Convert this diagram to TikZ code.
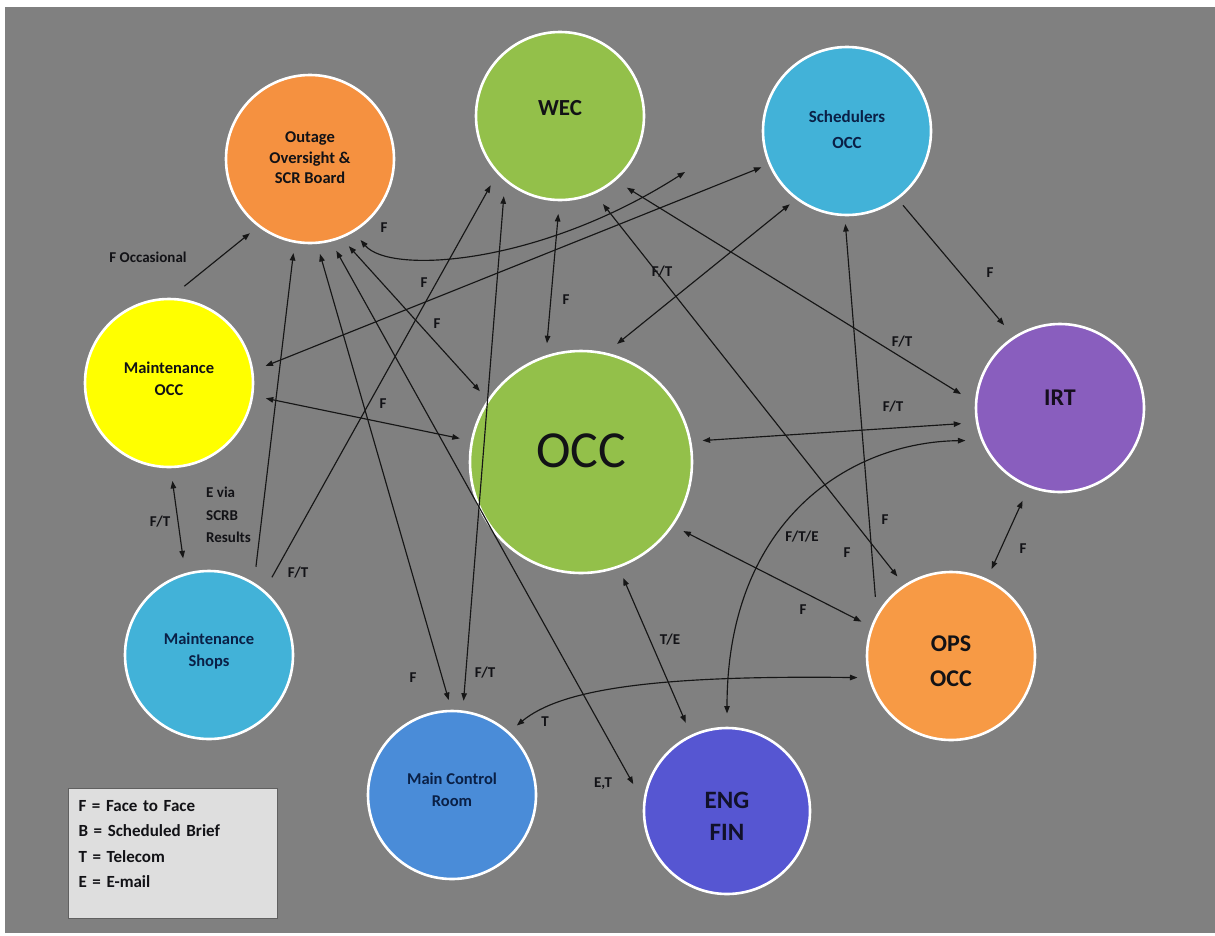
\documentclass[tikz,border=0pt]{standalone}
\usepackage{fontspec}
\setmainfont{Carlito}
\usetikzlibrary{arrows.meta}

\definecolor{canvasgray}{RGB}{128,128,128}
\definecolor{linedark}{RGB}{22,22,22}
\definecolor{inkdark}{RGB}{18,18,22}
\definecolor{orangeA}{RGB}{245,145,64}
\definecolor{orangeB}{RGB}{247,154,69}
\definecolor{greenA}{RGB}{147,192,74}
\definecolor{cyanA}{RGB}{66,178,216}
\definecolor{yellowA}{RGB}{255,255,0}
\definecolor{purpleA}{RGB}{137,94,190}
\definecolor{blueA}{RGB}{74,140,216}
\definecolor{indigoA}{RGB}{86,86,210}
\definecolor{navyA}{RGB}{10,32,70}
\definecolor{legendfill}{RGB}{222,222,222}
\definecolor{legendedge}{RGB}{96,96,96}

% text block raised by #2 without changing the box the node centres
\newcommand\liftby[3][c]{\raisebox{#2}[\height][\depth]{\begin{tabular}{@{}#1@{}}#3\end{tabular}}}

\tikzset{
  blob/.style={circle, draw=white, line width=2.6pt, inner sep=0pt, text=inkdark},
  smalltxt/.style={font=\fontsize{16.5}{22.5}\selectfont\bfseries},
  lbl/.style={font=\fontsize{15}{18}\selectfont\bfseries, text=inkdark, inner sep=0pt},
  link/.style={draw=linedark, line width=1.15pt},
  oneway/.style={link, -{Triangle[length=7.5pt,width=5.5pt]}},
  twoway/.style={link, {Triangle[length=7.5pt,width=5.5pt]}-{Triangle[length=7.5pt,width=5.5pt]}},
  legendbox/.style={draw=legendedge, line width=1pt, fill=legendfill, inner xsep=10pt, inner ysep=5pt,
    minimum width=209pt, minimum height=130pt, text width=189pt, align=left,
    font=\fontsize{17}{25.5}\selectfont\bfseries, text=inkdark}
}

\begin{document}
\begin{tikzpicture}[x=1pt, y=-1pt]
  \useasboundingbox (0,0) rectangle (1215,935);
  \fill[white] (0,0) rectangle (1215,935);
  \fill[canvasgray] (5,7) rectangle (1215,933);

  % ---- units ----
  \node[blob, fill=orangeA, minimum size=168pt, outer sep=11.5pt,
        font=\fontsize{16.5}{20.5}\selectfont\bfseries] (out) at (310,159)
        {\liftby{0pt}{Outage\\Oversight \&\\SCR Board}};
  \node[blob, fill=greenA, minimum size=168pt, outer sep=14pt,
        font=\fontsize{23}{27.6}\selectfont\bfseries] (wec) at (560,116)
        {\liftby{6pt}{WEC}};
  \node[blob, fill=cyanA, minimum size=168pt, outer sep=9pt, smalltxt,
        font=\fontsize{17}{26}\selectfont\bfseries, text=navyA] (sch) at (847,131)
        {\liftby{1pt}{Schedulers\\OCC}};
  \node[blob, fill=yellowA, minimum size=168pt, outer sep=14pt, smalltxt] (mocc) at (169,383)
        {\liftby{3pt}{Maintenance\\OCC}};
  \node[blob, fill=greenA, minimum size=222pt, outer sep=12.5pt,
        font=\fontsize{52}{60}\selectfont] (occ) at (581,462)
        {\liftby{7pt}{OCC}};
  \node[blob, fill=purpleA, minimum size=168pt, outer sep=16pt,
        font=\fontsize{24}{29}\selectfont\bfseries, text=black!85!purpleA] (irt) at (1060,408)
        {\liftby{8pt}{IRT}};
  \node[blob, fill=orangeB, minimum size=168pt, outer sep=12pt,
        font=\fontsize{24}{35}\selectfont\bfseries] (ops) at (951,656)
        {\liftby{-6pt}{OPS\\OCC}};
  \node[blob, fill=cyanA, minimum size=168pt, outer sep=16pt, smalltxt, text=navyA] (msh) at (209,655)
        {\liftby{4pt}{Maintenance\\Shops}};
  \node[blob, fill=blueA, minimum size=168pt, outer sep=11pt, smalltxt, text=navyA] (mcr) at (452,795)
        {\liftby{4pt}{Main Control\\Room}};
  \node[blob, fill=indigoA, minimum size=166pt, outer sep=14.5pt,
        font=\fontsize{25}{32}\selectfont\bfseries, text=black!80!indigoA] (eng) at (727,811)
        {\liftby{-7pt}{ENG\\FIN}};

  \coordinate (loopend) at (685,172);

  % ---- links ----
  \draw[oneway] (mocc.81) -- (out.-129);
  \draw[twoway] (mocc.10) -- (sch.-157);
  \draw[twoway] (mocc.-9) -- (occ.169);
  \draw[twoway] (mocc.-88) -- (msh.105);
  \draw[oneway] (msh.62) -- (out.-100);
  \draw[oneway] (msh.51) -- (wec.-135);
  \draw[twoway] (out.-84) -- (mcr.92);
  \draw[twoway] (out.-74) -- (eng.164);
  \draw[twoway] (out.-66) -- (occ.145);
  \draw[twoway] (out.-58) .. controls (390,275) and (540,265) .. (loopend);
  \draw[twoway] (wec.-125) -- (mcr.83);
  \draw[twoway] (wec.-91) -- (occ.106);
  \draw[twoway] (wec.-64) -- (ops.124);
  \draw[twoway] (wec.-47) -- (irt.172);
  \draw[twoway] (sch.-128) -- (occ.73);
  \draw[oneway] (ops.142) -- (sch.-91);
  \draw[oneway] (sch.-53) -- (irt.124);
  \draw[twoway] (occ.10) -- (irt.-171);
  \draw[twoway] (eng.90) .. controls (727,520) and (850,442) .. (irt.-161);
  \draw[twoway] (irt.-112) -- (ops.65);
  \draw[twoway] (occ.-34) -- (ops.159);
  \draw[twoway] (mcr.47) .. controls (560,690) and (650,675) .. (ops.-167);
  \draw[twoway] (occ.-70) -- (eng.115);

  % ---- link labels ----
  \node[lbl] (tOcc)  at (148,257) {F Occasional};
  \node[lbl] (tA)    at (384,228) {F};
  \node[lbl] (tB)    at (424,283) {F};
  \node[lbl] (tC)    at (437,324) {F};
  \node[lbl] (tD)    at (383,404) {F};
  \node[lbl] (tE)    at (566,300) {F};
  \node[lbl] (tF)    at (662,272) {F/T};
  \node[lbl] (tG)    at (902,342) {F/T};
  \node[lbl] (tH)    at (990,273) {F};
  \node[lbl] (tI)    at (893,407) {F/T};
  \node[lbl] (tJ)    at (160,522) {F/T};
  \node[lbl, anchor=west, align=left, font=\fontsize{15}{22.5}\selectfont\bfseries] (tK) at (206,515)
        {E via\\SCRB\\Results};
  \node[lbl] (tL)    at (298,573) {F/T};
  \node[lbl] (tM)    at (885,520) {F};
  \node[lbl] (tN)    at (802,537) {F/T/E};
  \node[lbl] (tO)    at (847,553) {F};
  \node[lbl] (tP)    at (1023,549) {F};
  \node[lbl] (tQ)    at (803,610) {F};
  \node[lbl] (tR)    at (670,640) {T/E};
  \node[lbl] (tS)    at (485,673) {F/T};
  \node[lbl] (tT)    at (413,678) {F};
  \node[lbl] (tU)    at (545,722) {T};
  \node[lbl] (tV)    at (603,784) {E,T};

  % ---- key ----
  \node[legendbox, anchor=north west] (key) at (68,788)
    {\liftby[l]{9pt}{F = Face to Face\\B = Scheduled Brief\\T = Telecom\\E = E-mail}};
\end{tikzpicture}
\end{document}
